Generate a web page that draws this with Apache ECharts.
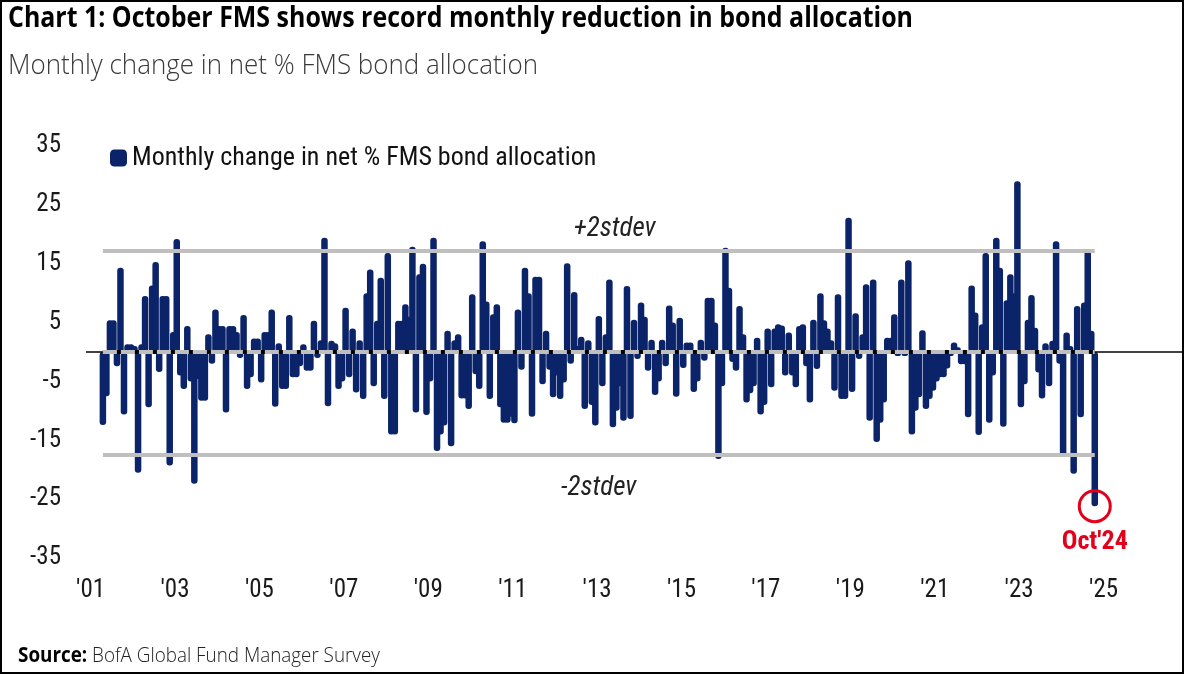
<!DOCTYPE html>
<html>
<head>
<meta charset="utf-8">
<script src="https://cdn.jsdelivr.net/npm/echarts@6/dist/echarts.min.js"></script>
<style>
html,body{margin:0;padding:0;background:#fff;}
#chart{position:absolute;left:0;top:0;width:1184px;height:674px;}
#frame{position:absolute;left:0;top:0;width:1184px;height:674px;box-sizing:border-box;border:2px solid #000;pointer-events:none;}
</style>
</head>
<body>
<div id="chart"></div>
<div id="frame"></div>
<script>
// ---------------- DATA ----------------
const titleText = 'Chart 1: October FMS shows record monthly reduction in bond allocation';
const subtitleText = 'Monthly change in net % FMS bond allocation';
const seriesName = 'Monthly change in net % FMS bond allocation';
const sourceLabel = 'Source:';
const sourceText = ' BofA Global Fund Manager Survey';
const firstYear = 2001, firstMonth = 4; // first observation: Apr 2001

const y2001 = [-12.4, -7.5, 5.4, 5.4, -2.4, 14.3, -10.6, 1.3, 1.3];
const y2002 = [1.0, -20.5, 1.3, 9.5, -9.4, 11.3, 15.3, -3.4, 9.5, 9.5, -19.3, 3.4];
const y2003 = [19.2, -4, -6.3, 4.4, -5, -22.4, -4.6, -8.3, -8.3, 3, -2, 7.2];
const y2004 = [4.4, 4.4, -10.3, 4.4, 4.4, 3.4, -1, 6.3, -6.3, -4.3, 2.3, 2.3];
const y2005 = [-5.2, 3.4, 3.4, 7.2, -9.3, 1.5, -6.3, -6.3, 6.3, -4.3, -4.3, -2.4];
const y2006 = [1.3, -3.2, -3.2, 5.3, -1, 2, 19.4, -9.2, 1.9, 1.5, -6.3, -5];
const y2007 = [7.5, -4.3, 4, -6.9, 2, -8, 10, 14, -5.8, 5.3, 12.6, -8];
const y2008 = [16.8, -14, -14, 5.3, 5.3, 8.1, 6, 17.9, -10.3, 13.2, 15, -10.7];
const y2009 = [-5, 19.4, -16.8, -14, -12.5, 3.6, -16, 2, 3, -7.9, -7.9, -9.7];
const y2010 = [9.8, -3.8, -6.3, 18.8, 8.6, -8, 6.4, 8.1, -9.4, -12, -12, -11];
const y2011 = [-12.1, 7.2, -3, 14.3, 10, -11, 12.8, 12.8, -5.5, 3.6, -3, -7.7];
const y2012 = [-4, -8, -5.2, 15.1, -2, 10.2, 1, 2.6, -9.7, 2, -9, -12.5];
const y2013 = [6.1, -5.8, 3, 12.3, -12.8, -10, -5.8, -11.7, 11.2, -11.4, 5.5, -1.2];
const y2014 = [8.4, 6, -3.2, 2.1, -7.3, -5, 2.1, -2.4, 7.9, 5, -7.6, 5.8];
const y2015 = [-2.7, 1.6, 1.6, -6.8, -5, 2.1, -1.5, 9.2, 9.2, 5, -18.2, -5.8];
const y2016 = [17.7, 10.9, -1.7, -3.2, 7.8, 3, -8.6, -7, -5.8, 2.4, -10.6, -9];
const y2017 = [4, -6, 4, 4.7, 4.5, -4, 3.3, -4, -6, 4.4, 4.7, -2.4];
const y2018 = [-8.6, 5.5, -2.9, 10, 5.4, 4, 2, -6.6, 9.8, -8, -8, 22.8];
const y2019 = [-6.8, 6.6, -1.2, 3, 11.5, -11.7, 12.3, -15.3, -12, -8.6, 2.4, 2.4];
const y2020 = [6.4, -0.7, 12.3, -0.7, 15.6, -14, -10, -7.7, 3.7, -9.7, -8, -6.6];
const y2021 = [-5, -4.3, -4.3, -2.8, -0.7, 1.6, 0.8, -2.1, -2.1, -11.1, 11.3, 6.7];
const y2022 = [-14.1, 4.7, 16.8, -12, -4, 19.4, 14.3, -12.7, 8.8, 13.2, 10, 29];
const y2023 = [-9.4, -5.5, 5.5, 9.7, 4.1, -3.5, -7.9, 1.5, -5.8, 1.9, 18.8, -2];
const y2024 = [-17.7, 3.3, 1, -20.7, 7.8, -11.1, 8.4, 17.4, 3.6, -26.2];

const xTickYears = [2001, 2003, 2005, 2007, 2009, 2011, 2013, 2015, 2017, 2019, 2021, 2023, 2025];
const yMin = -35, yMax = 35, yStep = 10;
const stdevUpper = 17.2, stdevLower = -17.4;
const stdevUpperLabel = '+2stdev', stdevLowerLabel = '-2stdev';
const monthNames = ['Jan','Feb','Mar','Apr','May','Jun','Jul','Aug','Sep','Oct','Nov','Dec'];

// ---------------- BUILD ----------------
const values = [].concat(y2001, y2002, y2003, y2004, y2005, y2006, y2007, y2008, y2009, y2010,
  y2011, y2012, y2013, y2014, y2015, y2016, y2017, y2018, y2019, y2020, y2021, y2022, y2023, y2024);
const baseYear = xTickYears[0];
// x = months since Jan of base year, plotted at mid-month
const monthOffset = (firstYear - baseYear) * 12 + (firstMonth - 1);
const points = values.map((v, i) => [monthOffset + i + 0.5, v]);
const xFirst = points[0][0], xLast = points[points.length - 1][0];
const lastIdx = monthOffset + values.length - 1;
const lastLabel = monthNames[lastIdx % 12] + "'" + String(baseYear + Math.floor(lastIdx / 12)).slice(2);
const xLabelValues = xTickYears.map(y => (y - baseYear) * 12);

const NAVY = '#0b2369';
const RED = '#e3001b';
const GREY = '#bfbfbf';
const NARROW = "'Liberation Sans Narrow', 'Arial Narrow', 'Roboto Condensed', 'DejaVu Sans Condensed', 'Liberation Sans', sans-serif";

function measure(text, font) {
  const c = document.createElement('canvas').getContext('2d');
  c.font = font;
  return c.measureText(text).width;
}
const titleFont = "bold 28px 'Open Sans'";
const subFont = "300 28px 'Open Sans'";
const srcBold = "bold 21px 'Open Sans'";
const srcReg = "300 21px 'Open Sans'";
const titleScale = 905 / measure(titleText, titleFont);
const subScale = 530 / measure(subtitleText, subFont);
const srcScale = 362 / (measure(sourceLabel, srcBold) + measure(sourceText, srcReg));

const chart = echarts.init(document.getElementById('chart'), null, {renderer: 'canvas'});
chart.setOption({
  animation: false,
  backgroundColor: 'transparent',
  grid: {left: 86, right: 2, top: 146, bottom: 116, containLabel: false, outerBoundsMode: 'none'},
  legend: {
    show: true, left: 110, top: 145, padding: 0,
    itemWidth: 17, itemHeight: 17, itemGap: 5, icon: 'roundRect',
    data: [seriesName],
    textStyle: {fontFamily: NARROW, fontSize: 26, color: '#111'}
  },
  graphic: [
    {type: 'text', x: 8, y: 19, scaleX: titleScale, silent: true,
      style: {text: titleText, font: titleFont, fill: '#000', verticalAlign: 'middle'}},
    {type: 'text', x: 8, y: 66, scaleX: subScale, silent: true,
      style: {text: subtitleText, font: subFont, fill: '#3a3a3a', verticalAlign: 'middle'}},
    {type: 'text', x: 18, y: 656, scaleX: srcScale, silent: true,
      style: {text: '{b|' + sourceLabel + '}{r|' + sourceText + '}', verticalAlign: 'middle',
        rich: {b: {font: srcBold, fill: '#000'}, r: {font: srcReg, fill: '#222'}}}}
  ],
  xAxis: {
    type: 'value', min: -1.3, max: 310.3,
    axisLine: {show: false}, axisTick: {show: false}, splitLine: {show: false},
    axisLabel: {
      customValues: xLabelValues, margin: 20,
      fontFamily: NARROW, fontSize: 25, color: '#1a1a1a',
      formatter: v => "'" + String(baseYear + Math.round(v / 12)).slice(2)
    }
  },
  yAxis: {
    type: 'value', min: yMin, max: yMax, interval: yStep,
    axisLine: {show: false}, axisTick: {show: false}, splitLine: {show: false},
    axisLabel: {margin: 25, fontFamily: NARROW, fontSize: 25, color: '#1a1a1a'}
  },
  series: [{
    type: 'bar', name: seriesName, data: points, barWidth: 6.5,
    itemStyle: {color: NAVY, borderRadius: 3},
    markLine: {
      silent: true, symbol: ['none', 'none'], animation: false,
      data: [
        {yAxis: 0, lineStyle: {color: '#000', width: 1.5, type: 'solid'}, label: {show: false}},
        [{coord: [xFirst, 0], lineStyle: {color: '#000', width: 4, type: 'solid'}, label: {show: false}}, {coord: [xLast, 0]}],
        [{coord: [xFirst, 0], lineStyle: {color: GREY, width: 4, type: [14, 4]}, label: {show: false}}, {coord: [xLast, 0]}],
        [{coord: [xFirst, stdevUpper], lineStyle: {color: GREY, width: 4, type: 'solid'},
          label: {show: true, formatter: stdevUpperLabel, position: 'insideMiddleTop', distance: 8,
            padding: [0, 0, 0, 32], fontFamily: NARROW, fontStyle: 'italic', fontSize: 27, color: '#222'}},
         {coord: [xLast, stdevUpper]}],
        [{coord: [xFirst, stdevLower], lineStyle: {color: GREY, width: 4, type: 'solid'},
          label: {show: true, formatter: stdevLowerLabel, position: 'insideMiddleBottom', distance: 20,
            fontFamily: NARROW, fontStyle: 'italic', fontSize: 27, color: '#222'}},
         {coord: [xLast, stdevLower]}]
      ]
    },
    markPoint: {
      silent: true, animation: false,
      data: [{
        coord: [xLast, values[values.length - 1]], symbol: 'circle', symbolSize: 31,
        itemStyle: {color: 'rgba(0,0,0,0)', borderColor: RED, borderWidth: 3},
        label: {show: true, position: 'bottom', distance: 6, formatter: lastLabel,
          color: RED, fontWeight: 'bold', fontFamily: NARROW, fontSize: 26}
      }]
    }
  }]
});
</script>
</body>
</html>
